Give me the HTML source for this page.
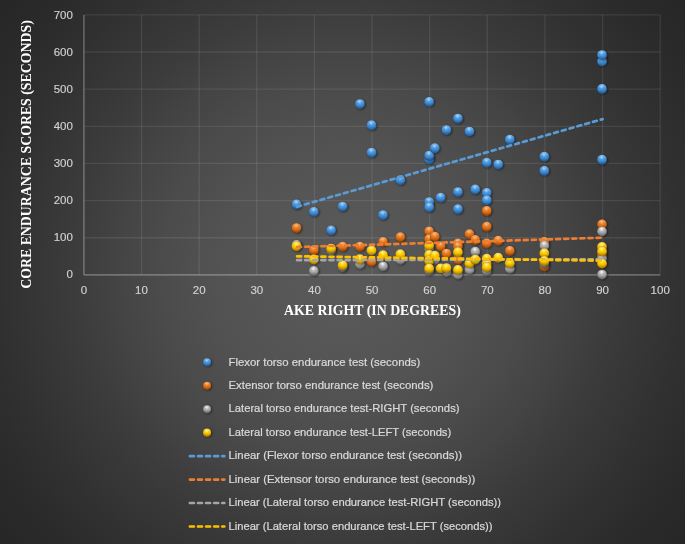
<!DOCTYPE html>
<html><head><meta charset="utf-8"><title>Chart</title>
<style>
html,body{margin:0;padding:0;background:#262626;}
body{width:685px;height:544px;overflow:hidden;}
#chart{position:relative;width:685px;height:544px;background:radial-gradient(circle 437.4px at 342.5px 272px, rgb(89,89,89) 0.0%, rgb(88,88,88) 8.0%, rgb(87,87,87) 14.4%, rgb(84,84,84) 24.5%, rgb(80,80,80) 33.0%, rgb(75,75,75) 41.8%, rgb(68,68,68) 51.5%, rgb(60,60,60) 61.0%, rgb(54,54,54) 70.0%, rgb(48,48,48) 79.0%, rgb(44,44,44) 86.0%, rgb(41,41,41) 92.7%, rgb(38,38,38) 100.0%);}
svg{position:absolute;left:0;top:0;}
.tick{font-family:"Liberation Sans",sans-serif;font-size:11.5px;fill:#d2d2d2;stroke:#d2d2d2;stroke-width:0.15px;}
.ttl{font-family:"Liberation Serif",serif;font-weight:bold;font-size:13.84px;fill:#ffffff;}
.leg{font-family:"Liberation Sans",sans-serif;font-size:11.6px;fill:#d9d9d9;stroke:#d9d9d9;stroke-width:0.22px;}
</style></head><body>
<div id="chart">
<svg width="685" height="544" viewBox="0 0 685 544">
<defs>
<radialGradient id="gb" cx="0.5" cy="0.5" r="0.5" fx="0.45" fy="0.2">
<stop offset="0" stop-color="#a2dcff"/><stop offset="0.38" stop-color="#4b9be3"/><stop offset="0.8" stop-color="#3b85cd"/><stop offset="1" stop-color="#2b65a2"/></radialGradient>
<radialGradient id="go" cx="0.5" cy="0.5" r="0.5" fx="0.45" fy="0.2">
<stop offset="0" stop-color="#ffba6e"/><stop offset="0.38" stop-color="#ee7d22"/><stop offset="0.8" stop-color="#da6a12"/><stop offset="1" stop-color="#a64d08"/></radialGradient>
<radialGradient id="gg" cx="0.5" cy="0.5" r="0.5" fx="0.45" fy="0.2">
<stop offset="0" stop-color="#ffffff"/><stop offset="0.38" stop-color="#b8b8b8"/><stop offset="0.8" stop-color="#989898"/><stop offset="1" stop-color="#6c6c6c"/></radialGradient>
<radialGradient id="gy" cx="0.5" cy="0.5" r="0.5" fx="0.45" fy="0.2">
<stop offset="0" stop-color="#fff88c"/><stop offset="0.38" stop-color="#ffd400"/><stop offset="0.8" stop-color="#f0b600"/><stop offset="1" stop-color="#b68800"/></radialGradient>
<linearGradient id="ov" x1="0" y1="0" x2="0" y2="1"><stop offset="0" stop-color="#fff" stop-opacity="0.38"/><stop offset="0.45" stop-color="#fff" stop-opacity="0"/><stop offset="0.55" stop-color="#000" stop-opacity="0"/><stop offset="0.88" stop-color="#000" stop-opacity="0.22"/><stop offset="1" stop-color="#000" stop-opacity="0.08"/></linearGradient>
<filter id="sh" x="-50%" y="-50%" width="200%" height="200%"><feGaussianBlur stdDeviation="1.1"/></filter>
</defs>
<g stroke="#ffffff" stroke-opacity="0.085" stroke-width="1.35"><line x1="83.90" y1="14.90" x2="83.90" y2="274.85"/><line x1="141.53" y1="14.90" x2="141.53" y2="274.85"/><line x1="199.16" y1="14.90" x2="199.16" y2="274.85"/><line x1="256.79" y1="14.90" x2="256.79" y2="274.85"/><line x1="314.42" y1="14.90" x2="314.42" y2="274.85"/><line x1="372.05" y1="14.90" x2="372.05" y2="274.85"/><line x1="429.68" y1="14.90" x2="429.68" y2="274.85"/><line x1="487.31" y1="14.90" x2="487.31" y2="274.85"/><line x1="544.94" y1="14.90" x2="544.94" y2="274.85"/><line x1="602.57" y1="14.90" x2="602.57" y2="274.85"/><line x1="660.20" y1="14.90" x2="660.20" y2="274.85"/><line x1="83.90" y1="274.85" x2="660.20" y2="274.85"/><line x1="83.90" y1="237.71" x2="660.20" y2="237.71"/><line x1="83.90" y1="200.58" x2="660.20" y2="200.58"/><line x1="83.90" y1="163.44" x2="660.20" y2="163.44"/><line x1="83.90" y1="126.31" x2="660.20" y2="126.31"/><line x1="83.90" y1="89.17" x2="660.20" y2="89.17"/><line x1="83.90" y1="52.04" x2="660.20" y2="52.04"/><line x1="83.90" y1="14.90" x2="660.20" y2="14.90"/></g>
<g stroke="#ffffff" stroke-opacity="0.21" stroke-width="1.6"><line x1="83.90" y1="14.90" x2="83.90" y2="274.85"/><line x1="83.90" y1="274.85" x2="660.20" y2="274.85"/></g>
<text class="tick" text-anchor="middle" x="83.9" y="294">0</text><text class="tick" text-anchor="middle" x="141.5" y="294">10</text><text class="tick" text-anchor="middle" x="199.2" y="294">20</text><text class="tick" text-anchor="middle" x="256.8" y="294">30</text><text class="tick" text-anchor="middle" x="314.4" y="294">40</text><text class="tick" text-anchor="middle" x="372.1" y="294">50</text><text class="tick" text-anchor="middle" x="429.7" y="294">60</text><text class="tick" text-anchor="middle" x="487.3" y="294">70</text><text class="tick" text-anchor="middle" x="544.9" y="294">80</text><text class="tick" text-anchor="middle" x="602.6" y="294">90</text><text class="tick" text-anchor="middle" x="660.2" y="294">100</text>
<text class="tick" text-anchor="end" x="72.9" y="278">0</text><text class="tick" text-anchor="end" x="72.9" y="241">100</text><text class="tick" text-anchor="end" x="72.9" y="204">200</text><text class="tick" text-anchor="end" x="72.9" y="167">300</text><text class="tick" text-anchor="end" x="72.9" y="130">400</text><text class="tick" text-anchor="end" x="72.9" y="93">500</text><text class="tick" text-anchor="end" x="72.9" y="56">600</text><text class="tick" text-anchor="end" x="72.9" y="19">700</text>
<text class="ttl" text-anchor="middle" x="372.4" y="314.7">AKE RIGHT (IN DEGREES)</text>
<text class="ttl" text-anchor="middle" transform="translate(30.9,154.5) rotate(-90)">CORE ENDURANCE SCORES (SECONDS)</text>
<g><circle cx="297.5" cy="205.2" r="4.95" fill="#000" fill-opacity="0.5" filter="url(#sh)"/><circle cx="296.5" cy="204.5" r="4.95" fill="url(#gb)"/><circle cx="296.5" cy="204.5" r="4.95" fill="url(#ov)"/><circle cx="314.8" cy="212.6" r="4.95" fill="#000" fill-opacity="0.5" filter="url(#sh)"/><circle cx="313.8" cy="211.9" r="4.95" fill="url(#gb)"/><circle cx="313.8" cy="211.9" r="4.95" fill="url(#ov)"/><circle cx="332.1" cy="231.1" r="4.95" fill="#000" fill-opacity="0.5" filter="url(#sh)"/><circle cx="331.1" cy="230.4" r="4.95" fill="url(#gb)"/><circle cx="331.1" cy="230.4" r="4.95" fill="url(#ov)"/><circle cx="343.6" cy="207.3" r="4.95" fill="#000" fill-opacity="0.5" filter="url(#sh)"/><circle cx="342.6" cy="206.6" r="4.95" fill="url(#gb)"/><circle cx="342.6" cy="206.6" r="4.95" fill="url(#ov)"/><circle cx="360.9" cy="104.8" r="4.95" fill="#000" fill-opacity="0.5" filter="url(#sh)"/><circle cx="359.9" cy="104.1" r="4.95" fill="url(#gb)"/><circle cx="359.9" cy="104.1" r="4.95" fill="url(#ov)"/><circle cx="372.5" cy="126.0" r="4.95" fill="#000" fill-opacity="0.5" filter="url(#sh)"/><circle cx="371.5" cy="125.3" r="4.95" fill="url(#gb)"/><circle cx="371.5" cy="125.3" r="4.95" fill="url(#ov)"/><circle cx="372.5" cy="153.4" r="4.95" fill="#000" fill-opacity="0.5" filter="url(#sh)"/><circle cx="371.5" cy="152.7" r="4.95" fill="url(#gb)"/><circle cx="371.5" cy="152.7" r="4.95" fill="url(#ov)"/><circle cx="384.0" cy="215.8" r="4.95" fill="#000" fill-opacity="0.5" filter="url(#sh)"/><circle cx="383.0" cy="215.1" r="4.95" fill="url(#gb)"/><circle cx="383.0" cy="215.1" r="4.95" fill="url(#ov)"/><circle cx="401.3" cy="180.9" r="4.95" fill="#000" fill-opacity="0.5" filter="url(#sh)"/><circle cx="400.3" cy="180.2" r="4.95" fill="url(#gb)"/><circle cx="400.3" cy="180.2" r="4.95" fill="url(#ov)"/><circle cx="430.1" cy="102.6" r="4.95" fill="#000" fill-opacity="0.5" filter="url(#sh)"/><circle cx="429.1" cy="101.9" r="4.95" fill="url(#gb)"/><circle cx="429.1" cy="101.9" r="4.95" fill="url(#ov)"/><circle cx="430.1" cy="160.1" r="4.95" fill="#000" fill-opacity="0.5" filter="url(#sh)"/><circle cx="429.1" cy="159.4" r="4.95" fill="url(#gb)"/><circle cx="429.1" cy="159.4" r="4.95" fill="url(#ov)"/><circle cx="430.1" cy="156.4" r="4.95" fill="#000" fill-opacity="0.5" filter="url(#sh)"/><circle cx="429.1" cy="155.7" r="4.95" fill="url(#gb)"/><circle cx="429.1" cy="155.7" r="4.95" fill="url(#ov)"/><circle cx="430.1" cy="202.8" r="4.95" fill="#000" fill-opacity="0.5" filter="url(#sh)"/><circle cx="429.1" cy="202.1" r="4.95" fill="url(#gb)"/><circle cx="429.1" cy="202.1" r="4.95" fill="url(#ov)"/><circle cx="430.1" cy="208.0" r="4.95" fill="#000" fill-opacity="0.5" filter="url(#sh)"/><circle cx="429.1" cy="207.3" r="4.95" fill="url(#gb)"/><circle cx="429.1" cy="207.3" r="4.95" fill="url(#ov)"/><circle cx="435.8" cy="149.0" r="4.95" fill="#000" fill-opacity="0.5" filter="url(#sh)"/><circle cx="434.8" cy="148.3" r="4.95" fill="url(#gb)"/><circle cx="434.8" cy="148.3" r="4.95" fill="url(#ov)"/><circle cx="441.6" cy="198.4" r="4.95" fill="#000" fill-opacity="0.5" filter="url(#sh)"/><circle cx="440.6" cy="197.7" r="4.95" fill="url(#gb)"/><circle cx="440.6" cy="197.7" r="4.95" fill="url(#ov)"/><circle cx="447.4" cy="130.8" r="4.95" fill="#000" fill-opacity="0.5" filter="url(#sh)"/><circle cx="446.4" cy="130.1" r="4.95" fill="url(#gb)"/><circle cx="446.4" cy="130.1" r="4.95" fill="url(#ov)"/><circle cx="458.9" cy="119.3" r="4.95" fill="#000" fill-opacity="0.5" filter="url(#sh)"/><circle cx="457.9" cy="118.6" r="4.95" fill="url(#gb)"/><circle cx="457.9" cy="118.6" r="4.95" fill="url(#ov)"/><circle cx="458.9" cy="192.8" r="4.95" fill="#000" fill-opacity="0.5" filter="url(#sh)"/><circle cx="457.9" cy="192.1" r="4.95" fill="url(#gb)"/><circle cx="457.9" cy="192.1" r="4.95" fill="url(#ov)"/><circle cx="458.9" cy="209.9" r="4.95" fill="#000" fill-opacity="0.5" filter="url(#sh)"/><circle cx="457.9" cy="209.2" r="4.95" fill="url(#gb)"/><circle cx="457.9" cy="209.2" r="4.95" fill="url(#ov)"/><circle cx="470.4" cy="132.3" r="4.95" fill="#000" fill-opacity="0.5" filter="url(#sh)"/><circle cx="469.4" cy="131.6" r="4.95" fill="url(#gb)"/><circle cx="469.4" cy="131.6" r="4.95" fill="url(#ov)"/><circle cx="476.2" cy="190.2" r="4.95" fill="#000" fill-opacity="0.5" filter="url(#sh)"/><circle cx="475.2" cy="189.5" r="4.95" fill="url(#gb)"/><circle cx="475.2" cy="189.5" r="4.95" fill="url(#ov)"/><circle cx="487.7" cy="163.5" r="4.95" fill="#000" fill-opacity="0.5" filter="url(#sh)"/><circle cx="486.7" cy="162.8" r="4.95" fill="url(#gb)"/><circle cx="486.7" cy="162.8" r="4.95" fill="url(#ov)"/><circle cx="487.7" cy="193.6" r="4.95" fill="#000" fill-opacity="0.5" filter="url(#sh)"/><circle cx="486.7" cy="192.9" r="4.95" fill="url(#gb)"/><circle cx="486.7" cy="192.9" r="4.95" fill="url(#ov)"/><circle cx="487.7" cy="201.0" r="4.95" fill="#000" fill-opacity="0.5" filter="url(#sh)"/><circle cx="486.7" cy="200.3" r="4.95" fill="url(#gb)"/><circle cx="486.7" cy="200.3" r="4.95" fill="url(#ov)"/><circle cx="499.2" cy="165.3" r="4.95" fill="#000" fill-opacity="0.5" filter="url(#sh)"/><circle cx="498.2" cy="164.6" r="4.95" fill="url(#gb)"/><circle cx="498.2" cy="164.6" r="4.95" fill="url(#ov)"/><circle cx="510.8" cy="140.4" r="4.95" fill="#000" fill-opacity="0.5" filter="url(#sh)"/><circle cx="509.8" cy="139.7" r="4.95" fill="url(#gb)"/><circle cx="509.8" cy="139.7" r="4.95" fill="url(#ov)"/><circle cx="545.3" cy="157.5" r="4.95" fill="#000" fill-opacity="0.5" filter="url(#sh)"/><circle cx="544.3" cy="156.8" r="4.95" fill="url(#gb)"/><circle cx="544.3" cy="156.8" r="4.95" fill="url(#ov)"/><circle cx="545.3" cy="171.6" r="4.95" fill="#000" fill-opacity="0.5" filter="url(#sh)"/><circle cx="544.3" cy="170.9" r="4.95" fill="url(#gb)"/><circle cx="544.3" cy="170.9" r="4.95" fill="url(#ov)"/><circle cx="603.0" cy="62.1" r="4.95" fill="#000" fill-opacity="0.5" filter="url(#sh)"/><circle cx="602.0" cy="61.4" r="4.95" fill="url(#gb)"/><circle cx="602.0" cy="61.4" r="4.95" fill="url(#ov)"/><circle cx="603.0" cy="55.8" r="4.95" fill="#000" fill-opacity="0.5" filter="url(#sh)"/><circle cx="602.0" cy="55.1" r="4.95" fill="url(#gb)"/><circle cx="602.0" cy="55.1" r="4.95" fill="url(#ov)"/><circle cx="603.0" cy="89.6" r="4.95" fill="#000" fill-opacity="0.5" filter="url(#sh)"/><circle cx="602.0" cy="88.9" r="4.95" fill="url(#gb)"/><circle cx="602.0" cy="88.9" r="4.95" fill="url(#ov)"/><circle cx="603.0" cy="160.5" r="4.95" fill="#000" fill-opacity="0.5" filter="url(#sh)"/><circle cx="602.0" cy="159.8" r="4.95" fill="url(#gb)"/><circle cx="602.0" cy="159.8" r="4.95" fill="url(#ov)"/></g>
<g><circle cx="297.5" cy="228.8" r="4.95" fill="#000" fill-opacity="0.5" filter="url(#sh)"/><circle cx="296.5" cy="228.1" r="4.95" fill="url(#go)"/><circle cx="296.5" cy="228.1" r="4.95" fill="url(#ov)"/><circle cx="314.8" cy="250.9" r="4.95" fill="#000" fill-opacity="0.5" filter="url(#sh)"/><circle cx="313.8" cy="250.2" r="4.95" fill="url(#go)"/><circle cx="313.8" cy="250.2" r="4.95" fill="url(#ov)"/><circle cx="343.6" cy="247.4" r="4.95" fill="#000" fill-opacity="0.5" filter="url(#sh)"/><circle cx="342.6" cy="246.7" r="4.95" fill="url(#go)"/><circle cx="342.6" cy="246.7" r="4.95" fill="url(#ov)"/><circle cx="360.9" cy="247.4" r="4.95" fill="#000" fill-opacity="0.5" filter="url(#sh)"/><circle cx="359.9" cy="246.7" r="4.95" fill="url(#go)"/><circle cx="359.9" cy="246.7" r="4.95" fill="url(#ov)"/><circle cx="372.5" cy="262.4" r="4.95" fill="#000" fill-opacity="0.5" filter="url(#sh)"/><circle cx="371.5" cy="261.7" r="4.95" fill="url(#go)"/><circle cx="371.5" cy="261.7" r="4.95" fill="url(#ov)"/><circle cx="384.0" cy="242.6" r="4.95" fill="#000" fill-opacity="0.5" filter="url(#sh)"/><circle cx="383.0" cy="241.9" r="4.95" fill="url(#go)"/><circle cx="383.0" cy="241.9" r="4.95" fill="url(#ov)"/><circle cx="401.3" cy="237.9" r="4.95" fill="#000" fill-opacity="0.5" filter="url(#sh)"/><circle cx="400.3" cy="237.2" r="4.95" fill="url(#go)"/><circle cx="400.3" cy="237.2" r="4.95" fill="url(#ov)"/><circle cx="430.1" cy="232.2" r="4.95" fill="#000" fill-opacity="0.5" filter="url(#sh)"/><circle cx="429.1" cy="231.5" r="4.95" fill="url(#go)"/><circle cx="429.1" cy="231.5" r="4.95" fill="url(#ov)"/><circle cx="430.1" cy="240.0" r="4.95" fill="#000" fill-opacity="0.5" filter="url(#sh)"/><circle cx="429.1" cy="239.3" r="4.95" fill="url(#go)"/><circle cx="429.1" cy="239.3" r="4.95" fill="url(#ov)"/><circle cx="435.8" cy="237.4" r="4.95" fill="#000" fill-opacity="0.5" filter="url(#sh)"/><circle cx="434.8" cy="236.7" r="4.95" fill="url(#go)"/><circle cx="434.8" cy="236.7" r="4.95" fill="url(#ov)"/><circle cx="441.6" cy="247.2" r="4.95" fill="#000" fill-opacity="0.5" filter="url(#sh)"/><circle cx="440.6" cy="246.5" r="4.95" fill="url(#go)"/><circle cx="440.6" cy="246.5" r="4.95" fill="url(#ov)"/><circle cx="447.4" cy="254.3" r="4.95" fill="#000" fill-opacity="0.5" filter="url(#sh)"/><circle cx="446.4" cy="253.6" r="4.95" fill="url(#go)"/><circle cx="446.4" cy="253.6" r="4.95" fill="url(#ov)"/><circle cx="458.9" cy="244.1" r="4.95" fill="#000" fill-opacity="0.5" filter="url(#sh)"/><circle cx="457.9" cy="243.4" r="4.95" fill="url(#go)"/><circle cx="457.9" cy="243.4" r="4.95" fill="url(#ov)"/><circle cx="458.9" cy="247.5" r="4.95" fill="#000" fill-opacity="0.5" filter="url(#sh)"/><circle cx="457.9" cy="246.8" r="4.95" fill="url(#go)"/><circle cx="457.9" cy="246.8" r="4.95" fill="url(#ov)"/><circle cx="458.9" cy="260.4" r="4.95" fill="#000" fill-opacity="0.5" filter="url(#sh)"/><circle cx="457.9" cy="259.7" r="4.95" fill="url(#go)"/><circle cx="457.9" cy="259.7" r="4.95" fill="url(#ov)"/><circle cx="470.4" cy="234.9" r="4.95" fill="#000" fill-opacity="0.5" filter="url(#sh)"/><circle cx="469.4" cy="234.2" r="4.95" fill="url(#go)"/><circle cx="469.4" cy="234.2" r="4.95" fill="url(#ov)"/><circle cx="476.2" cy="240.7" r="4.95" fill="#000" fill-opacity="0.5" filter="url(#sh)"/><circle cx="475.2" cy="240.0" r="4.95" fill="url(#go)"/><circle cx="475.2" cy="240.0" r="4.95" fill="url(#ov)"/><circle cx="487.7" cy="211.7" r="4.95" fill="#000" fill-opacity="0.5" filter="url(#sh)"/><circle cx="486.7" cy="211.0" r="4.95" fill="url(#go)"/><circle cx="486.7" cy="211.0" r="4.95" fill="url(#ov)"/><circle cx="487.7" cy="227.5" r="4.95" fill="#000" fill-opacity="0.5" filter="url(#sh)"/><circle cx="486.7" cy="226.8" r="4.95" fill="url(#go)"/><circle cx="486.7" cy="226.8" r="4.95" fill="url(#ov)"/><circle cx="487.7" cy="244.1" r="4.95" fill="#000" fill-opacity="0.5" filter="url(#sh)"/><circle cx="486.7" cy="243.4" r="4.95" fill="url(#go)"/><circle cx="486.7" cy="243.4" r="4.95" fill="url(#ov)"/><circle cx="499.2" cy="241.5" r="4.95" fill="#000" fill-opacity="0.5" filter="url(#sh)"/><circle cx="498.2" cy="240.8" r="4.95" fill="url(#go)"/><circle cx="498.2" cy="240.8" r="4.95" fill="url(#ov)"/><circle cx="510.8" cy="251.6" r="4.95" fill="#000" fill-opacity="0.5" filter="url(#sh)"/><circle cx="509.8" cy="250.9" r="4.95" fill="url(#go)"/><circle cx="509.8" cy="250.9" r="4.95" fill="url(#ov)"/><circle cx="545.3" cy="242.6" r="4.95" fill="#000" fill-opacity="0.5" filter="url(#sh)"/><circle cx="544.3" cy="241.9" r="4.95" fill="url(#go)"/><circle cx="544.3" cy="241.9" r="4.95" fill="url(#ov)"/><circle cx="545.3" cy="267.2" r="4.95" fill="#000" fill-opacity="0.5" filter="url(#sh)"/><circle cx="544.3" cy="266.5" r="4.95" fill="url(#go)"/><circle cx="544.3" cy="266.5" r="4.95" fill="url(#ov)"/><circle cx="603.0" cy="225.1" r="4.95" fill="#000" fill-opacity="0.5" filter="url(#sh)"/><circle cx="602.0" cy="224.4" r="4.95" fill="url(#go)"/><circle cx="602.0" cy="224.4" r="4.95" fill="url(#ov)"/><circle cx="603.0" cy="255.6" r="4.95" fill="#000" fill-opacity="0.5" filter="url(#sh)"/><circle cx="602.0" cy="254.9" r="4.95" fill="url(#go)"/><circle cx="602.0" cy="254.9" r="4.95" fill="url(#ov)"/></g>
<g><circle cx="297.5" cy="245.7" r="4.95" fill="#000" fill-opacity="0.5" filter="url(#sh)"/><circle cx="296.5" cy="245.0" r="4.95" fill="url(#gg)"/><circle cx="296.5" cy="245.0" r="4.95" fill="url(#ov)"/><circle cx="314.8" cy="271.7" r="4.95" fill="#000" fill-opacity="0.5" filter="url(#sh)"/><circle cx="313.8" cy="271.0" r="4.95" fill="url(#gg)"/><circle cx="313.8" cy="271.0" r="4.95" fill="url(#ov)"/><circle cx="332.1" cy="251.5" r="4.95" fill="#000" fill-opacity="0.5" filter="url(#sh)"/><circle cx="331.1" cy="250.8" r="4.95" fill="url(#gg)"/><circle cx="331.1" cy="250.8" r="4.95" fill="url(#ov)"/><circle cx="343.6" cy="268.0" r="4.95" fill="#000" fill-opacity="0.5" filter="url(#sh)"/><circle cx="342.6" cy="267.3" r="4.95" fill="url(#gg)"/><circle cx="342.6" cy="267.3" r="4.95" fill="url(#ov)"/><circle cx="360.9" cy="264.9" r="4.95" fill="#000" fill-opacity="0.5" filter="url(#sh)"/><circle cx="359.9" cy="264.2" r="4.95" fill="url(#gg)"/><circle cx="359.9" cy="264.2" r="4.95" fill="url(#ov)"/><circle cx="384.0" cy="267.1" r="4.95" fill="#000" fill-opacity="0.5" filter="url(#sh)"/><circle cx="383.0" cy="266.4" r="4.95" fill="url(#gg)"/><circle cx="383.0" cy="266.4" r="4.95" fill="url(#ov)"/><circle cx="401.3" cy="260.4" r="4.95" fill="#000" fill-opacity="0.5" filter="url(#sh)"/><circle cx="400.3" cy="259.7" r="4.95" fill="url(#gg)"/><circle cx="400.3" cy="259.7" r="4.95" fill="url(#ov)"/><circle cx="430.1" cy="249.8" r="4.95" fill="#000" fill-opacity="0.5" filter="url(#sh)"/><circle cx="429.1" cy="249.1" r="4.95" fill="url(#gg)"/><circle cx="429.1" cy="249.1" r="4.95" fill="url(#ov)"/><circle cx="430.1" cy="271.6" r="4.95" fill="#000" fill-opacity="0.5" filter="url(#sh)"/><circle cx="429.1" cy="270.9" r="4.95" fill="url(#gg)"/><circle cx="429.1" cy="270.9" r="4.95" fill="url(#ov)"/><circle cx="435.8" cy="260.4" r="4.95" fill="#000" fill-opacity="0.5" filter="url(#sh)"/><circle cx="434.8" cy="259.7" r="4.95" fill="url(#gg)"/><circle cx="434.8" cy="259.7" r="4.95" fill="url(#ov)"/><circle cx="447.4" cy="272.7" r="4.95" fill="#000" fill-opacity="0.5" filter="url(#sh)"/><circle cx="446.4" cy="272.0" r="4.95" fill="url(#gg)"/><circle cx="446.4" cy="272.0" r="4.95" fill="url(#ov)"/><circle cx="458.9" cy="275.2" r="4.95" fill="#000" fill-opacity="0.5" filter="url(#sh)"/><circle cx="457.9" cy="274.6" r="4.95" fill="url(#gg)"/><circle cx="457.9" cy="274.6" r="4.95" fill="url(#ov)"/><circle cx="470.4" cy="270.4" r="4.95" fill="#000" fill-opacity="0.5" filter="url(#sh)"/><circle cx="469.4" cy="269.7" r="4.95" fill="url(#gg)"/><circle cx="469.4" cy="269.7" r="4.95" fill="url(#ov)"/><circle cx="476.2" cy="252.5" r="4.95" fill="#000" fill-opacity="0.5" filter="url(#sh)"/><circle cx="475.2" cy="251.8" r="4.95" fill="url(#gg)"/><circle cx="475.2" cy="251.8" r="4.95" fill="url(#ov)"/><circle cx="487.7" cy="271.6" r="4.95" fill="#000" fill-opacity="0.5" filter="url(#sh)"/><circle cx="486.7" cy="270.9" r="4.95" fill="url(#gg)"/><circle cx="486.7" cy="270.9" r="4.95" fill="url(#ov)"/><circle cx="510.8" cy="269.5" r="4.95" fill="#000" fill-opacity="0.5" filter="url(#sh)"/><circle cx="509.8" cy="268.8" r="4.95" fill="url(#gg)"/><circle cx="509.8" cy="268.8" r="4.95" fill="url(#ov)"/><circle cx="545.3" cy="246.5" r="4.95" fill="#000" fill-opacity="0.5" filter="url(#sh)"/><circle cx="544.3" cy="245.8" r="4.95" fill="url(#gg)"/><circle cx="544.3" cy="245.8" r="4.95" fill="url(#ov)"/><circle cx="545.3" cy="264.1" r="4.95" fill="#000" fill-opacity="0.5" filter="url(#sh)"/><circle cx="544.3" cy="263.4" r="4.95" fill="url(#gg)"/><circle cx="544.3" cy="263.4" r="4.95" fill="url(#ov)"/><circle cx="603.0" cy="232.2" r="4.95" fill="#000" fill-opacity="0.5" filter="url(#sh)"/><circle cx="602.0" cy="231.5" r="4.95" fill="url(#gg)"/><circle cx="602.0" cy="231.5" r="4.95" fill="url(#ov)"/><circle cx="603.0" cy="259.3" r="4.95" fill="#000" fill-opacity="0.5" filter="url(#sh)"/><circle cx="602.0" cy="258.6" r="4.95" fill="url(#gg)"/><circle cx="602.0" cy="258.6" r="4.95" fill="url(#ov)"/><circle cx="603.0" cy="275.2" r="4.95" fill="#000" fill-opacity="0.5" filter="url(#sh)"/><circle cx="602.0" cy="274.6" r="4.95" fill="url(#gg)"/><circle cx="602.0" cy="274.6" r="4.95" fill="url(#ov)"/></g>
<g><circle cx="297.5" cy="247.0" r="4.95" fill="#000" fill-opacity="0.5" filter="url(#sh)"/><circle cx="296.5" cy="246.3" r="4.95" fill="url(#gy)"/><circle cx="296.5" cy="246.3" r="4.95" fill="url(#ov)"/><circle cx="314.8" cy="260.2" r="4.95" fill="#000" fill-opacity="0.5" filter="url(#sh)"/><circle cx="313.8" cy="259.5" r="4.95" fill="url(#gy)"/><circle cx="313.8" cy="259.5" r="4.95" fill="url(#ov)"/><circle cx="332.1" cy="249.3" r="4.95" fill="#000" fill-opacity="0.5" filter="url(#sh)"/><circle cx="331.1" cy="248.6" r="4.95" fill="url(#gy)"/><circle cx="331.1" cy="248.6" r="4.95" fill="url(#ov)"/><circle cx="343.6" cy="266.0" r="4.95" fill="#000" fill-opacity="0.5" filter="url(#sh)"/><circle cx="342.6" cy="265.3" r="4.95" fill="url(#gy)"/><circle cx="342.6" cy="265.3" r="4.95" fill="url(#ov)"/><circle cx="360.9" cy="260.0" r="4.95" fill="#000" fill-opacity="0.5" filter="url(#sh)"/><circle cx="359.9" cy="259.3" r="4.95" fill="url(#gy)"/><circle cx="359.9" cy="259.3" r="4.95" fill="url(#ov)"/><circle cx="372.5" cy="251.3" r="4.95" fill="#000" fill-opacity="0.5" filter="url(#sh)"/><circle cx="371.5" cy="250.6" r="4.95" fill="url(#gy)"/><circle cx="371.5" cy="250.6" r="4.95" fill="url(#ov)"/><circle cx="384.0" cy="255.9" r="4.95" fill="#000" fill-opacity="0.5" filter="url(#sh)"/><circle cx="383.0" cy="255.2" r="4.95" fill="url(#gy)"/><circle cx="383.0" cy="255.2" r="4.95" fill="url(#ov)"/><circle cx="401.3" cy="255.0" r="4.95" fill="#000" fill-opacity="0.5" filter="url(#sh)"/><circle cx="400.3" cy="254.3" r="4.95" fill="url(#gy)"/><circle cx="400.3" cy="254.3" r="4.95" fill="url(#ov)"/><circle cx="430.1" cy="246.3" r="4.95" fill="#000" fill-opacity="0.5" filter="url(#sh)"/><circle cx="429.1" cy="245.6" r="4.95" fill="url(#gy)"/><circle cx="429.1" cy="245.6" r="4.95" fill="url(#ov)"/><circle cx="430.1" cy="255.6" r="4.95" fill="#000" fill-opacity="0.5" filter="url(#sh)"/><circle cx="429.1" cy="254.9" r="4.95" fill="url(#gy)"/><circle cx="429.1" cy="254.9" r="4.95" fill="url(#ov)"/><circle cx="430.1" cy="261.5" r="4.95" fill="#000" fill-opacity="0.5" filter="url(#sh)"/><circle cx="429.1" cy="260.8" r="4.95" fill="url(#gy)"/><circle cx="429.1" cy="260.8" r="4.95" fill="url(#ov)"/><circle cx="430.1" cy="269.2" r="4.95" fill="#000" fill-opacity="0.5" filter="url(#sh)"/><circle cx="429.1" cy="268.5" r="4.95" fill="url(#gy)"/><circle cx="429.1" cy="268.5" r="4.95" fill="url(#ov)"/><circle cx="435.8" cy="256.5" r="4.95" fill="#000" fill-opacity="0.5" filter="url(#sh)"/><circle cx="434.8" cy="255.8" r="4.95" fill="url(#gy)"/><circle cx="434.8" cy="255.8" r="4.95" fill="url(#ov)"/><circle cx="441.6" cy="269.1" r="4.95" fill="#000" fill-opacity="0.5" filter="url(#sh)"/><circle cx="440.6" cy="268.4" r="4.95" fill="url(#gy)"/><circle cx="440.6" cy="268.4" r="4.95" fill="url(#ov)"/><circle cx="447.4" cy="268.8" r="4.95" fill="#000" fill-opacity="0.5" filter="url(#sh)"/><circle cx="446.4" cy="268.1" r="4.95" fill="url(#gy)"/><circle cx="446.4" cy="268.1" r="4.95" fill="url(#ov)"/><circle cx="458.9" cy="252.9" r="4.95" fill="#000" fill-opacity="0.5" filter="url(#sh)"/><circle cx="457.9" cy="252.2" r="4.95" fill="url(#gy)"/><circle cx="457.9" cy="252.2" r="4.95" fill="url(#ov)"/><circle cx="458.9" cy="270.6" r="4.95" fill="#000" fill-opacity="0.5" filter="url(#sh)"/><circle cx="457.9" cy="269.9" r="4.95" fill="url(#gy)"/><circle cx="457.9" cy="269.9" r="4.95" fill="url(#ov)"/><circle cx="470.4" cy="264.1" r="4.95" fill="#000" fill-opacity="0.5" filter="url(#sh)"/><circle cx="469.4" cy="263.4" r="4.95" fill="url(#gy)"/><circle cx="469.4" cy="263.4" r="4.95" fill="url(#ov)"/><circle cx="476.2" cy="260.3" r="4.95" fill="#000" fill-opacity="0.5" filter="url(#sh)"/><circle cx="475.2" cy="259.6" r="4.95" fill="url(#gy)"/><circle cx="475.2" cy="259.6" r="4.95" fill="url(#ov)"/><circle cx="487.7" cy="259.5" r="4.95" fill="#000" fill-opacity="0.5" filter="url(#sh)"/><circle cx="486.7" cy="258.8" r="4.95" fill="url(#gy)"/><circle cx="486.7" cy="258.8" r="4.95" fill="url(#ov)"/><circle cx="487.7" cy="264.4" r="4.95" fill="#000" fill-opacity="0.5" filter="url(#sh)"/><circle cx="486.7" cy="263.7" r="4.95" fill="url(#gy)"/><circle cx="486.7" cy="263.7" r="4.95" fill="url(#ov)"/><circle cx="487.7" cy="268.0" r="4.95" fill="#000" fill-opacity="0.5" filter="url(#sh)"/><circle cx="486.7" cy="267.3" r="4.95" fill="url(#gy)"/><circle cx="486.7" cy="267.3" r="4.95" fill="url(#ov)"/><circle cx="499.2" cy="258.4" r="4.95" fill="#000" fill-opacity="0.5" filter="url(#sh)"/><circle cx="498.2" cy="257.7" r="4.95" fill="url(#gy)"/><circle cx="498.2" cy="257.7" r="4.95" fill="url(#ov)"/><circle cx="510.8" cy="263.9" r="4.95" fill="#000" fill-opacity="0.5" filter="url(#sh)"/><circle cx="509.8" cy="263.2" r="4.95" fill="url(#gy)"/><circle cx="509.8" cy="263.2" r="4.95" fill="url(#ov)"/><circle cx="545.3" cy="253.9" r="4.95" fill="#000" fill-opacity="0.5" filter="url(#sh)"/><circle cx="544.3" cy="253.2" r="4.95" fill="url(#gy)"/><circle cx="544.3" cy="253.2" r="4.95" fill="url(#ov)"/><circle cx="545.3" cy="261.7" r="4.95" fill="#000" fill-opacity="0.5" filter="url(#sh)"/><circle cx="544.3" cy="261.0" r="4.95" fill="url(#gy)"/><circle cx="544.3" cy="261.0" r="4.95" fill="url(#ov)"/><circle cx="603.0" cy="247.7" r="4.95" fill="#000" fill-opacity="0.5" filter="url(#sh)"/><circle cx="602.0" cy="247.0" r="4.95" fill="url(#gy)"/><circle cx="602.0" cy="247.0" r="4.95" fill="url(#ov)"/><circle cx="603.0" cy="252.1" r="4.95" fill="#000" fill-opacity="0.5" filter="url(#sh)"/><circle cx="602.0" cy="251.4" r="4.95" fill="url(#gy)"/><circle cx="602.0" cy="251.4" r="4.95" fill="url(#ov)"/><circle cx="603.0" cy="264.3" r="4.95" fill="#000" fill-opacity="0.5" filter="url(#sh)"/><circle cx="602.0" cy="263.6" r="4.95" fill="url(#gy)"/><circle cx="602.0" cy="263.6" r="4.95" fill="url(#ov)"/></g>
<line x1="297.1" y1="206.7" x2="602.6" y2="119.1" stroke="#5b9bd5" stroke-width="2.7" stroke-dasharray="4.0 4.1" stroke-linecap="round"/>
<line x1="297.1" y1="247.0" x2="602.6" y2="237.7" stroke="#ed7d31" stroke-width="2.7" stroke-dasharray="4.0 4.1" stroke-linecap="round"/>
<line x1="297.1" y1="260.2" x2="602.6" y2="259.3" stroke="#a5a5a5" stroke-width="2.7" stroke-dasharray="4.0 4.1" stroke-linecap="round"/>
<line x1="297.1" y1="256.3" x2="602.6" y2="260.7" stroke="#ffc000" stroke-width="2.7" stroke-dasharray="4.0 4.1" stroke-linecap="round"/>
<circle cx="208.0" cy="362.9" r="4.1" fill="#000" fill-opacity="0.5" filter="url(#sh)"/><circle cx="207.05" cy="362.4" r="4.1" fill="url(#gb)"/><circle cx="207.05" cy="362.4" r="4.1" fill="url(#ov)"/><text class="leg" x="228.5" y="366" textLength="191.8" lengthAdjust="spacingAndGlyphs">Flexor torso endurance test (seconds)</text>
<circle cx="208.0" cy="386.3" r="4.1" fill="#000" fill-opacity="0.5" filter="url(#sh)"/><circle cx="207.05" cy="385.8" r="4.1" fill="url(#go)"/><circle cx="207.05" cy="385.8" r="4.1" fill="url(#ov)"/><text class="leg" x="228.5" y="389" textLength="204.9" lengthAdjust="spacingAndGlyphs">Extensor torso endurance test (seconds)</text>
<circle cx="208.0" cy="409.8" r="4.1" fill="#000" fill-opacity="0.5" filter="url(#sh)"/><circle cx="207.05" cy="409.3" r="4.1" fill="url(#gg)"/><circle cx="207.05" cy="409.3" r="4.1" fill="url(#ov)"/><text class="leg" x="228.5" y="412" textLength="231.0" lengthAdjust="spacingAndGlyphs">Lateral torso endurance test-RIGHT (seconds)</text>
<circle cx="208.0" cy="433.2" r="4.1" fill="#000" fill-opacity="0.5" filter="url(#sh)"/><circle cx="207.05" cy="432.7" r="4.1" fill="url(#gy)"/><circle cx="207.05" cy="432.7" r="4.1" fill="url(#ov)"/><text class="leg" x="228.5" y="436" textLength="222.7" lengthAdjust="spacingAndGlyphs">Lateral torso endurance test-LEFT (seconds)</text>
<line x1="189.9" y1="456.2" x2="224.3" y2="456.2" stroke="#5b9bd5" stroke-width="2.7" stroke-dasharray="4.0 4.1" stroke-linecap="round"/><text class="leg" x="228.5" y="459" textLength="233.5" lengthAdjust="spacingAndGlyphs">Linear (Flexor torso endurance test (seconds))</text>
<line x1="189.9" y1="479.6" x2="224.3" y2="479.6" stroke="#ed7d31" stroke-width="2.7" stroke-dasharray="4.0 4.1" stroke-linecap="round"/><text class="leg" x="228.5" y="483" textLength="246.7" lengthAdjust="spacingAndGlyphs">Linear (Extensor torso endurance test (seconds))</text>
<line x1="189.9" y1="503.0" x2="224.3" y2="503.0" stroke="#a5a5a5" stroke-width="2.7" stroke-dasharray="4.0 4.1" stroke-linecap="round"/><text class="leg" x="228.5" y="506" textLength="272.6" lengthAdjust="spacingAndGlyphs">Linear (Lateral torso endurance test-RIGHT (seconds))</text>
<line x1="189.9" y1="526.5" x2="224.3" y2="526.5" stroke="#ffc000" stroke-width="2.7" stroke-dasharray="4.0 4.1" stroke-linecap="round"/><text class="leg" x="228.5" y="530" textLength="264.0" lengthAdjust="spacingAndGlyphs">Linear (Lateral torso endurance test-LEFT (seconds))</text>
</svg></div></body></html>
